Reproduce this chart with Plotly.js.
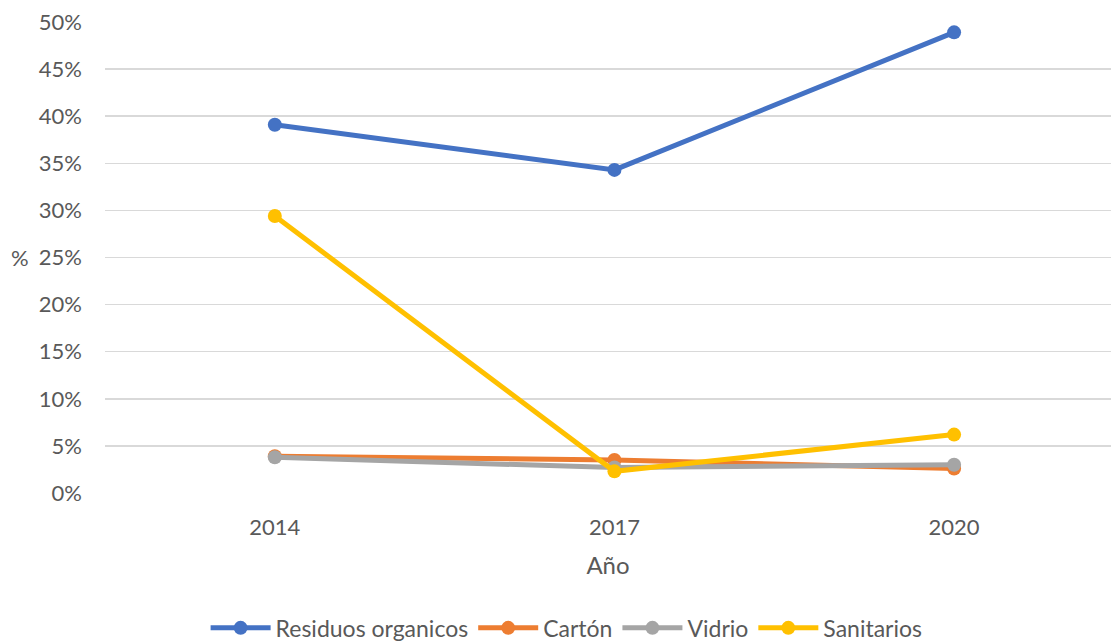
<!DOCTYPE html>
<html>
<head>
<meta charset="utf-8">
<script src="https://cdn.plot.ly/plotly-3.0.1.min.js"></script>
<style>html,body{margin:0;padding:0;background:#fff;}#chart{width:1111px;height:644px;}</style>
</head>
<body>
<div id="chart"></div>
<script>
var years = ["2014", "2017", "2020"];
var residuosOrganicos = [0.391, 0.343, 0.489];
var carton = [0.039, 0.035, 0.026];
var vidrio = [0.038, 0.027, 0.030];
var sanitarios = [0.294, 0.023, 0.062];
var yTickVals = [0, 0.05, 0.10, 0.15, 0.20, 0.25, 0.30, 0.35, 0.40, 0.45, 0.50];

var series = [
  {name: "Residuos organicos", y: residuosOrganicos, color: "#4472C4"},
  {name: "Cartón", y: carton, color: "#ED7D31"},
  {name: "Vidrio", y: vidrio, color: "#A5A5A5"},
  {name: "Sanitarios", y: sanitarios, color: "#FFC000"}
];

var font = "Lato, 'Open Sans', 'Liberation Sans', sans-serif";
var textColor = "#595959";

var traces = series.map(function (s) {
  return {
    type: "scatter",
    mode: "lines+markers",
    name: s.name,
    x: years,
    y: s.y,
    line: {color: s.color, width: 5},
    marker: {color: s.color, size: 14}
  };
});

var layout = {
  width: 1111,
  height: 644,
  margin: {l: 105, r: 0, t: 22, b: 151},
  paper_bgcolor: "#ffffff",
  plot_bgcolor: "#ffffff",
  font: {family: font, color: textColor, size: 22},
  showlegend: true,
  legend: {
    orientation: "h",
    xref: "container",
    yref: "container",
    x: 0.51,
    xanchor: "center",
    y: 0.025,
    yanchor: "middle",
    font: {size: 23, color: textColor},
    itemwidth: 60,
    tracegroupgap: 0
  },
  xaxis: {
    type: "category",
    range: [-0.5, 2.462],
    showgrid: false,
    zeroline: false,
    showline: false,
    ticks: "",
    ticklabelstandoff: 19,
    tickfont: {size: 22, color: textColor},
    title: {text: "Año", font: {size: 24, color: textColor}, standoff: 18}
  },
  yaxis: {
    range: [0, 0.5],
    tickvals: yTickVals,
    tickformat: ".0%",
    showgrid: true,
    gridcolor: "#D9D9D9",
    gridwidth: 1.5,
    zeroline: false,
    showline: false,
    ticks: "",
    ticklabelstandoff: 22,
    tickfont: {size: 22, color: textColor}
  },
  annotations: [{
    text: "%",
    xref: "paper",
    yref: "paper",
    x: -0.0845,
    y: 0.5,
    xanchor: "center",
    yanchor: "middle",
    showarrow: false,
    font: {size: 22, color: textColor}
  }]
};

Plotly.newPlot("chart", traces, layout, {displayModeBar: false, staticPlot: true});
</script>
</body>
</html>
